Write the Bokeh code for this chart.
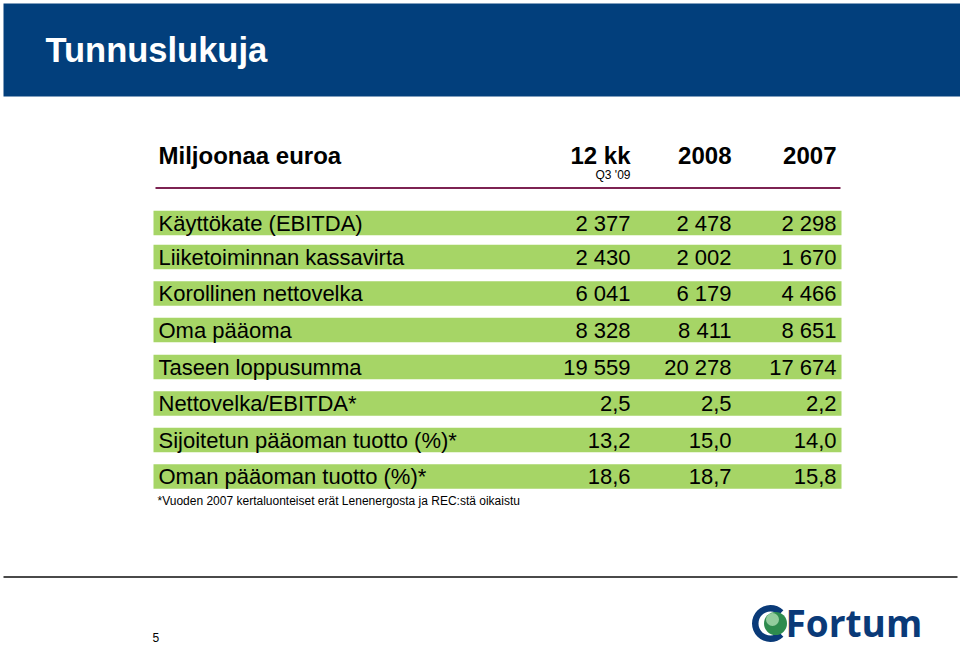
from bokeh.plotting import figure
from bokeh.models import Range1d
from bokeh.core.properties import value
from bokeh.embed import file_html
from bokeh.resources import INLINE
import math

# ---------------- data ----------------
title = "Tunnuslukuja"
unit_label = "Miljoonaa euroa"
col_headers = ["12 kk", "2008", "2007"]
col_sub = ["Q3 '09", "", ""]
row_labels = [
    "Käyttökate (EBITDA)",
    "Liiketoiminnan kassavirta",
    "Korollinen nettovelka",
    "Oma pääoma",
    "Taseen loppusumma",
    "Nettovelka/EBITDA*",
    "Sijoitetun pääoman tuotto (%)*",
    "Oman pääoman tuotto (%)*",
]
vals_12kk = [2377, 2430, 6041, 8328, 19559, 2.5, 13.2, 18.6]
vals_2008 = [2478, 2002, 6179, 8411, 20278, 2.5, 15.0, 18.7]
vals_2007 = [2298, 1670, 4466, 8651, 17674, 2.2, 14.0, 15.8]
decimals = [0, 0, 0, 0, 0, 1, 1, 1]
footnote = "*Vuoden 2007 kertaluonteiset erät Lenenergosta ja REC:stä oikaistu"
page_number = "5"
logo_text = "Fortum"


def fmt(v, d):
    if d == 0:
        return f"{int(round(v)):,}".replace(",", " ")
    return f"{v:.{d}f}".replace(".", ",")


# ---------------- layout ----------------
FONT = value("Liberation Sans")
BLUE = "#023f7c"
GREEN = "#a6d566"

p = figure(width=960, height=647, x_range=Range1d(0, 960), y_range=Range1d(647, 0),
           output_backend="svg", toolbar_location=None, min_border=0,
           outline_line_color=None, background_fill_color="white")
p.xaxis.visible = False
p.yaxis.visible = False
p.xgrid.visible = False
p.ygrid.visible = False

# header band
p.quad(left=[3], right=[960], top=[3], bottom=[96], fill_color=BLUE, line_color=None)
p.text(x=[45], y=[49], text=[title], text_font=FONT, text_font_style="bold",
       text_font_size="34.5px", text_color="white", text_baseline="middle")

# table header
col_right = [630, 731, 836]
p.text(x=[158], y=[155], text=[unit_label], text_font=FONT, text_font_style="bold",
       text_font_size="24px", text_color="black", text_baseline="middle")
p.text(x=col_right, y=[155] * 3, text=col_headers, text_font=FONT, text_font_style="bold",
       text_font_size="24px", text_color="black", text_baseline="middle",
       text_align="right")
p.text(x=col_right, y=[174] * 3, text=col_sub, text_font=FONT,
       text_font_size="12px", text_color="black", text_baseline="middle",
       text_align="right")
p.segment(x0=[155], y0=[187.5], x1=[840], y1=[187.5], line_color="#7d2352", line_width=2)

# rows
row_c = [222.5, 256.5, 293, 329.5, 366.5, 403, 439.5, 476]
bar_h = 24.5
p.quad(left=[153] * len(row_c), right=[841] * len(row_c),
       top=[c - bar_h / 2 for c in row_c], bottom=[c + bar_h / 2 for c in row_c],
       fill_color=GREEN, line_color=None)
p.text(x=[158] * len(row_labels), y=row_c, text=row_labels, text_font=FONT,
       text_font_size="22px", text_color="black", text_baseline="middle")
for xr, vals in zip(col_right, [vals_12kk, vals_2008, vals_2007]):
    p.text(x=[xr] * len(vals), y=row_c, text=[fmt(v, d) for v, d in zip(vals, decimals)],
           text_font=FONT, text_font_size="22px", text_color="black",
           text_baseline="middle", text_align="right")

# footnote
p.text(x=[157], y=[500], text=[footnote], text_font=FONT, text_font_size="12px",
       text_color="black", text_baseline="middle")

# bottom rule
p.segment(x0=[3], y0=[576.5], x1=[957], y1=[576.5], line_color="#4a4a4a", line_width=2)

# page number
p.text(x=[152], y=[637], text=[page_number], text_font=FONT, text_font_size="12px",
       text_color="black", text_baseline="middle")

# logo
p.annular_wedge(x=[770], y=[623], inner_radius=12, outer_radius=18.5,
                start_angle=0.8, end_angle=2 * math.pi - 0.8, direction="anticlock",
                fill_color="#0a3a78", line_color=None)
p.circle(x=[775], y=[623], radius=11.5, fill_color="#2e8b4e", line_color=None)
p.circle(x=[772], y=[619], radius=6.5, fill_color="#b6e2b8", fill_alpha=0.75, line_color=None)
p.text(x=[785], y=[622], text=[logo_text], text_font=value("Open Sans"),
       text_font_style="bold", text_font_size="37px", text_color="#0a3a78",
       text_baseline="middle")

open("out.html", "w").write(file_html(p, INLINE))
